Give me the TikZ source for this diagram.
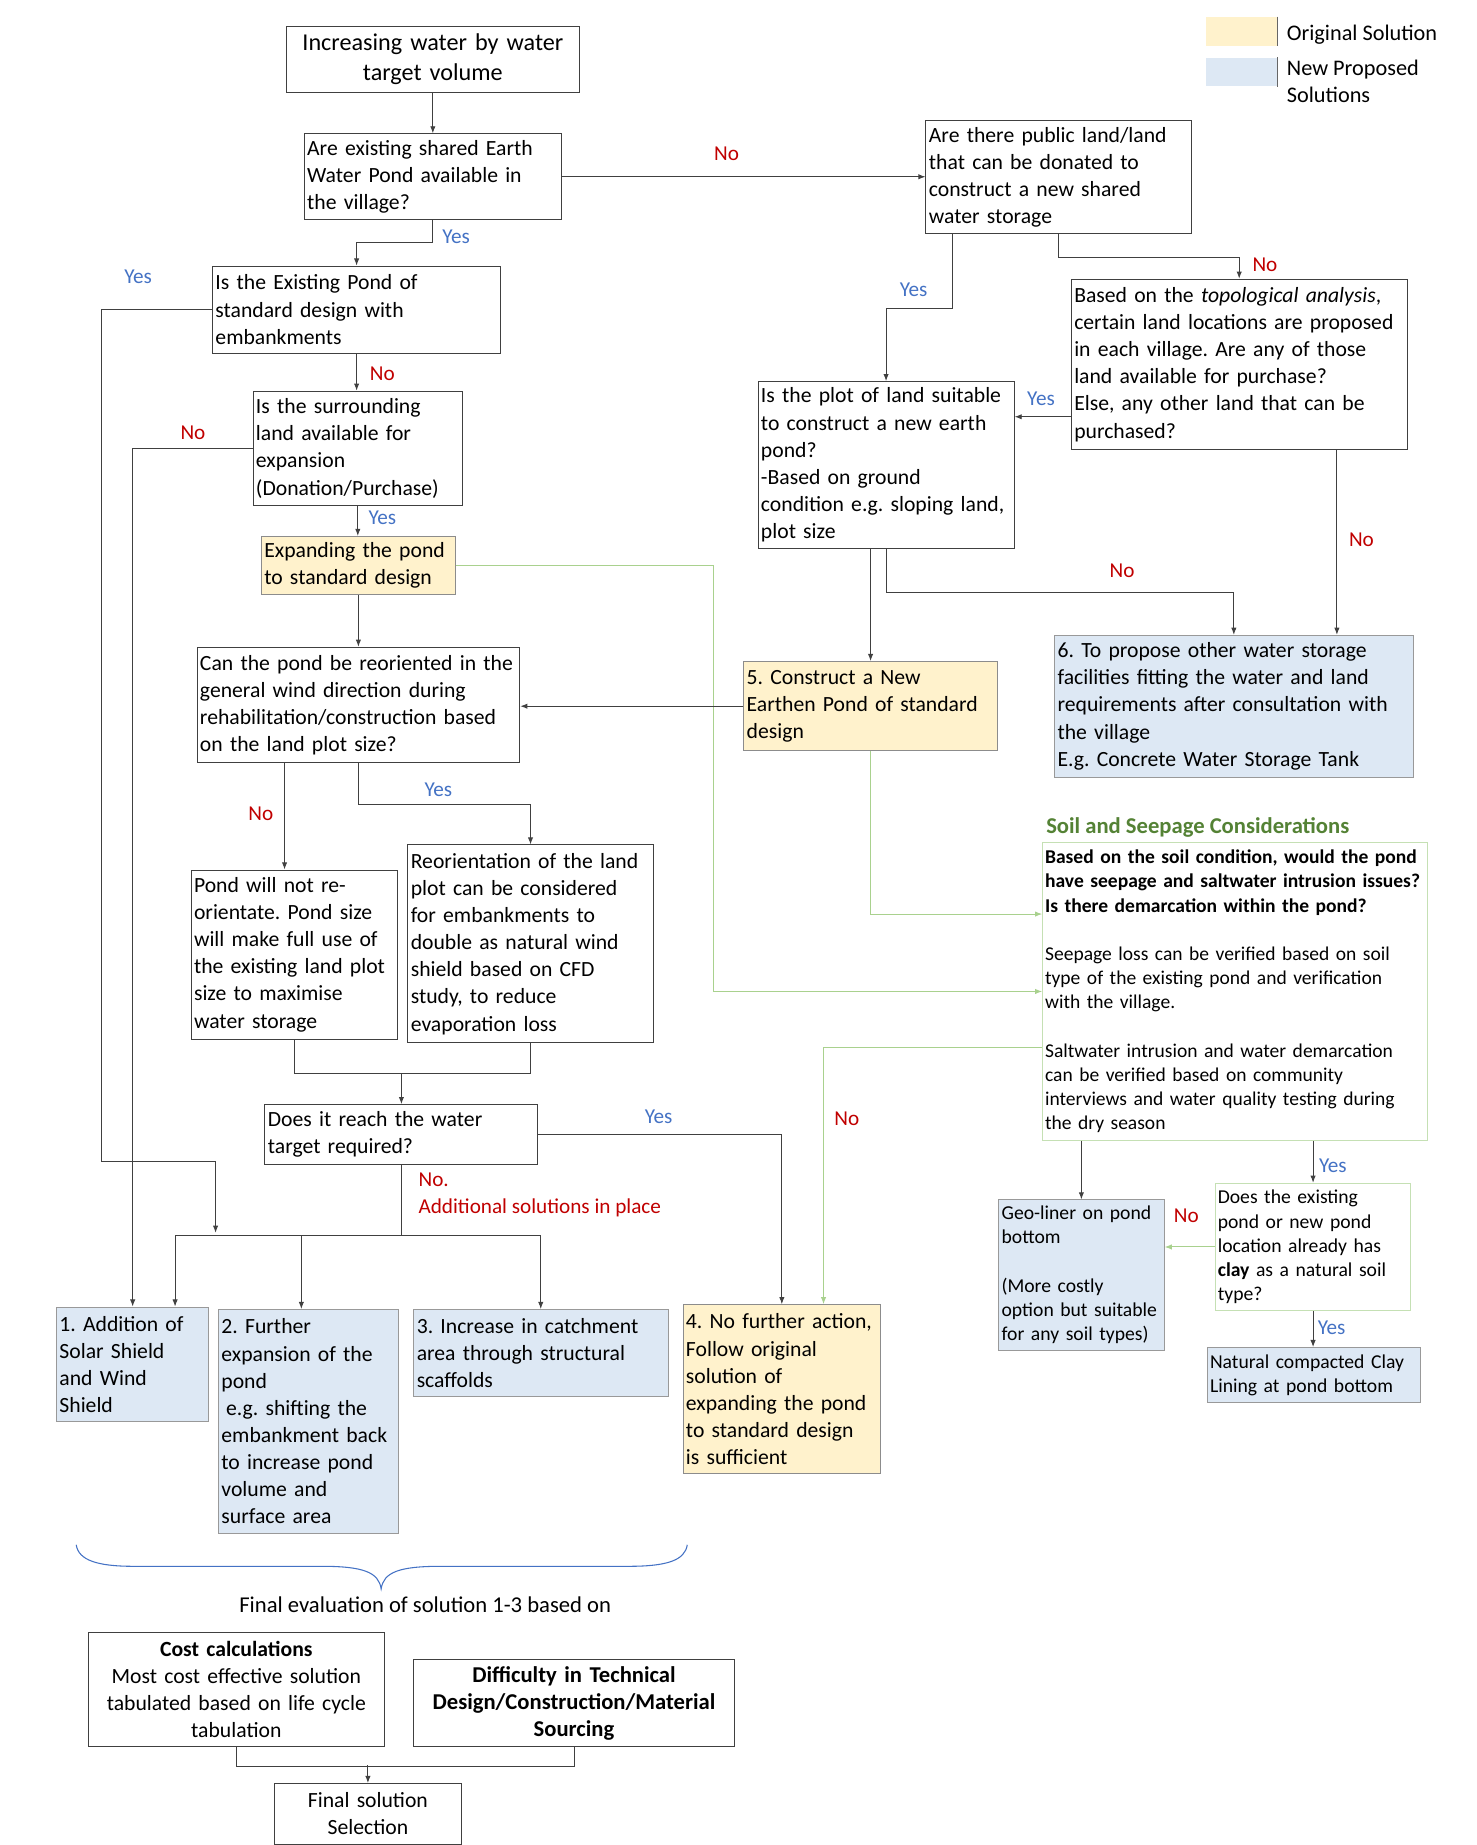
\documentclass[tikz,border=0pt]{standalone}
\usepackage{fontspec}
\setmainfont{Carlito}
\usetikzlibrary{arrows.meta}
\frenchspacing

\definecolor{origfill}{HTML}{FFF2CC}
\definecolor{newfill}{HTML}{DDE8F4}
\definecolor{linegray}{HTML}{404040}
\definecolor{greenline}{HTML}{A9D18E}
\definecolor{soilline}{HTML}{C5E0B4}
\definecolor{nored}{HTML}{C00000}
\definecolor{yesblue}{HTML}{4472C4}
\definecolor{titlegreen}{HTML}{548235}

\begin{document}
\hyphenpenalty=10000
\exhyphenpenalty=10000
\begin{tikzpicture}[x=1pt, y=-1pt, >={Latex[length=6pt,width=4.5pt]}, line width=0.8pt]

    \useasboundingbox (0,0) rectangle (1240,1549);

    % Styles
    \tikzstyle{box} = [rectangle, draw=linegray, anchor=north west, align=left, inner xsep=2.5pt, inner ysep=2pt, font=\fontsize{18.2}{22.8}\selectfont]
    \tikzstyle{original} = [box, fill=origfill, draw=black!45]
    \tikzstyle{proposed} = [box, fill=newfill, draw=black!40]
    \tikzstyle{soilbox} = [box, draw=soilline, inner xsep=2pt, font=\fontsize{16.4}{20.3}\selectfont]
    \tikzstyle{small} = [font=\fontsize{16.5}{20.3}\selectfont]
    \tikzstyle{swatch} = [rectangle, anchor=north west, inner sep=0pt, minimum width=60, minimum height=24]
    \tikzstyle{legendtext} = [align=left, inner sep=0pt, font=\fontsize{18.7}{23}\selectfont]
    \tikzstyle{heading} = [anchor=west, inner sep=0pt, text=titlegreen, font=\fontsize{19}{22}\selectfont\bfseries]
    \tikzstyle{yes} = [inner sep=0pt, text=yesblue, font=\fontsize{17.8}{22}\selectfont]
    \tikzstyle{no} = [inner sep=0pt, text=nored, font=\fontsize{17.8}{22}\selectfont]
    \tikzstyle{arrow} = [->, draw=linegray]
    \tikzstyle{link} = [draw=linegray]
    \tikzstyle{garrow} = [->, draw=greenline]

    % Legend
    \node[swatch, fill=origfill] (legOrig) at (1012,14) {};
    \draw[link, black!60] (legOrig.north east) -- (legOrig.south east);
    \node[legendtext, anchor=west] (legOrigText) at (1080,29) {Original Solution};
    \node[swatch, fill=newfill] (legNew) at (1012,48) {};
    \draw[link, black!60] (legNew.north east) -- (legNew.south east);
    \node[legendtext, anchor=north west] (legNewText) at (1080,50) {New Proposed\\Solutions};

    % Existing pond branch
    \node[box, align=center, text width=241, minimum height=55, font=\fontsize{20.3}{25}\selectfont] (target) at (240,22) {Increasing water by water\\target volume};
    \node[box, text width=211, minimum height=72] (existPond) at (255,112) {Are existing shared Earth\\Water Pond available in\\the village?};
    \node[box, text width=237, minimum height=73] (stdDesign) at (178,223) {Is the Existing Pond of\\standard design with\\embankments};
    \node[box, text width=171, minimum height=96] (surround) at (212,328) {Is the surrounding\\land available for\\expansion\\(Donation/Purchase)};
    \node[original, text width=158, minimum height=49] (expand) at (219,450) {Expanding the pond\\to standard design};
    \node[box, text width=266, minimum height=97] (reorient) at (165,543) {Can the pond be reoriented in the\\general wind direction during\\rehabilitation/construction based\\on the land plot size?};
    \node[box, text width=168, minimum height=142] (noReorient) at (160,730) {Pond will not re-\\orientate. Pond size\\will make full use of\\the existing land plot\\size to maximise\\water storage};
    \node[box, text width=201, minimum height=166] (reorientPlot) at (342,709) {Reorientation of the land\\plot can be considered\\for embankments to\\double as natural wind\\shield based on CFD\\study, to reduce\\evaporation loss};
    \node[box, text width=224, minimum height=50] (reachTarget) at (222,927) {Does it reach the water\\target required?};

    % New pond branch
    \node[box, text width=218, minimum height=95] (publicLand) at (777,101) {Are there public land/land\\that can be donated to\\construct a new shared\\water storage};
    \node[box, text width=210, minimum height=140] (plotSuitable) at (636,320) {Is the plot of land suitable\\to construct a new earth\\pond?\\-Based on ground\\condition e.g. sloping land,\\plot size};
    \node[box, text width=277, minimum height=143] (topoLand) at (899,234) {Based on the \textit{topological analysis},\\certain land locations are proposed\\in each village. Are any of those\\land available for purchase?\\Else, any other land that can be\\purchased?};
    \node[original, text width=208, minimum height=75] (newPond) at (624,555) {5. Construct a New\\Earthen Pond of standard\\design};
    \node[proposed, text width=296, minimum height=119] (otherStorage) at (885,533) {6. To propose other water storage\\facilities fitting the water and land\\requirements after consultation with\\the village\\E.g. Concrete Water Storage Tank};

    % Soil and seepage
    \node[heading] (soilTitle) at (878,695) {Soil and Seepage Considerations};
    \node[soilbox, text width=319, minimum height=250] (soilCheck) at (875,707) {\textbf{Based on the soil condition, would the pond}\\\textbf{have seepage and saltwater intrusion issues?}\\\textbf{Is there demarcation within the pond?}\\[20.3pt]Seepage loss can be verified based on soil\\type of the existing pond and verification\\with the village.\\[20.3pt]Saltwater intrusion and water demarcation\\can be verified based on community\\interviews and water quality testing during\\the dry season};
    \node[proposed, small, text width=134, minimum height=126] (geoLiner) at (838,1007) {Geo-liner on pond\\bottom\\[20.3pt](More costly\\option but suitable\\for any soil types)};
    \node[soilbox, small, text width=160, minimum height=107] (clayCheck) at (1020,993) {Does the existing\\pond or new pond\\location already has\\\textbf{clay} as a natural soil\\type?};
    \node[proposed, small, text width=174, minimum height=46] (clayLining) at (1013,1131) {Natural compacted Clay\\Lining at pond bottom};

    % Solutions
    \node[proposed, text width=123, minimum height=96] (sol1) at (47,1097) {1. Addition of\\Solar Shield\\and Wind\\Shield};
    \node[proposed, text width=146, minimum height=188] (sol2) at (183,1099) {2. Further\\expansion of the\\pond\\\hspace{4pt}e.g. shifting the\\embankment back\\to increase pond\\volume and\\surface area};
    \node[proposed, text width=209, minimum height=73] (sol3) at (347,1099) {3. Increase in catchment\\area through structural\\scaffolds};
    \node[original, text width=161, minimum height=142] (sol4) at (573,1095) {4. No further action,\\Follow original\\solution of\\expanding the pond\\to standard design\\is sufficient};

    % Evaluation
    \node[legendtext, font=\fontsize{19}{23}\selectfont] (evalText) at (357,1347) {Final evaluation of solution 1-3 based on};
    \node[box, align=center, text width=243, minimum height=96] (cost) at (74,1370) {\textbf{Cost calculations}\\Most cost effective solution\\tabulated based on life cycle\\tabulation};
    \node[box, align=center, text width=264, minimum height=73, font=\fontsize{19}{22.8}\selectfont] (difficulty) at (347,1393) {\textbf{Difficulty in Technical}\\\textbf{Design/Construction/Material}\\\textbf{Sourcing}};
    \node[box, align=center, text width=152, minimum height=51] (finalSel) at (230,1497) {Final solution\\Selection};

    % Joints
    \coordinate (yesJoin) at (181,1035);
    \coordinate (hiJoin) at (337,901);
    \coordinate (busL) at (147,1037);
    \coordinate (busMid) at (253,1037);
    \coordinate (busR) at (454,1037);
    \coordinate (noNorth) at ([xshift=-8pt]noReorient.north);
    \coordinate (topoYes) at ([yshift=-44pt]topoLand.west);
    \coordinate (topoNo) at ([xshift=82pt]topoLand.south);
    \coordinate (soilIn) at ([yshift=65pt]soilCheck.west);
    \coordinate (soilOut) at ([yshift=-47pt]soilCheck.west);
    \coordinate (sol4In) at ([xshift=35pt]sol4.north);

    % Arrows
    \draw[arrow] (target.south) -- (existPond.north);
    \draw[arrow] (existPond.east) -- (existPond.east -| publicLand.west);
    \draw[arrow] (existPond.south) -- ++(0,19) -| (stdDesign.north);
    \draw[arrow] (stdDesign.west) -| (85,975) -| (yesJoin);
    \draw[arrow] (stdDesign.south) -- (stdDesign.south |- surround.north);
    \draw[arrow] (surround.west) -| (sol1.north);
    \draw[arrow] (surround.south) -- (surround.south |- expand.north);
    \draw[arrow] (expand.south) -- (expand.south |- reorient.north);
    \draw[garrow] (expand.east) -- ++(216,0) |- (soilCheck.west);

    \draw[arrow] (noNorth |- reorient.south) -- (noNorth);
    \draw[arrow] (reorient.south) -- ++(0,35) -| (reorientPlot.north);
    \draw[link] (noReorient.south) |- (hiJoin);
    \draw[link] (reorientPlot.south) |- (hiJoin);
    \draw[arrow] (hiJoin) -- (hiJoin |- reachTarget.north);
    \draw[arrow] (reachTarget.east) -| (sol4.north);
    \draw[link] (reachTarget.south) -- (reachTarget.south |- busL);
    \draw[link] (busL) -- (busR);
    \draw[arrow] (busL) -- (busL |- sol1.north);
    \draw[arrow] (busMid) -- (busMid |- sol2.north);
    \draw[arrow] (busR) -- (busR |- sol3.north);

    \draw[arrow] ([xshift=23pt]publicLand.south west) -- ++(0,62) -| (plotSuitable.north);
    \draw[arrow] (publicLand.south) -- ++(0,19) -| (topoLand.north);
    \draw[arrow] (topoYes) -- (topoYes -| plotSuitable.east);
    \draw[arrow] (topoNo) -- (topoNo |- otherStorage.north);
    \draw[arrow] (plotSuitable.south) -- ++(0,37) -| (otherStorage.north);
    \draw[arrow] (newPond.north |- plotSuitable.south) -- (newPond.north);
    \draw[arrow] (newPond.west) -- (newPond.west -| reorient.east);
    \draw[garrow] (newPond.south) |- (soilIn);
    \draw[garrow] (soilOut) -| (sol4In);

    \draw[arrow] (geoLiner.north |- soilCheck.south) -- (geoLiner.north);
    \draw[arrow] (clayCheck.north |- soilCheck.south) -- (clayCheck.north);
    \draw[garrow] (clayCheck.west) -- (clayCheck.west -| geoLiner.east);
    \draw[arrow] (clayCheck.south) -- (clayCheck.south |- clayLining.north);

    \draw[yesblue, line width=0.9pt] (64,1297) .. controls (66,1310) and (82,1315) .. (112,1315) -- (270,1315) .. controls (305,1315) and (318,1320) .. (320,1334) .. controls (322,1320) and (335,1315) .. (370,1315) -- (528,1315) .. controls (560,1315) and (575,1310) .. (577,1297);
    \draw[link] (cost.south) -- ++(0,16) -| (difficulty.south);
    \draw[arrow] ([yshift=15pt]finalSel.north) -- (finalSel.north);

    % Labels
    \node[no] (noPublic) at (610,129) {No};
    \node[yes] (yesStd) at (383,199) {Yes};
    \node[yes] (yesExisting) at (116,232) {Yes};
    \node[no] (noSurround) at (321,314) {No};
    \node[no] (noExpand) at (162,363) {No};
    \node[yes] (yesExpand) at (321,435) {Yes};
    \node[no] (noReorientLab) at (219,683) {No};
    \node[yes] (yesReorientLab) at (368,663) {Yes};
    \node[yes] (yesTarget) at (553,938) {Yes};
    \node[no, anchor=north west, align=left, font=\fontsize{17.8}{23}\selectfont] (noTarget) at (351,984) {No.\\Additional solutions in place};
    \node[yes] (yesPublic) at (767,243) {Yes};
    \node[no] (noPublicK) at (1062,222) {No};
    \node[yes] (yesTopo) at (874,335) {Yes};
    \node[no] (noTopo) at (1143,453) {No};
    \node[no] (noPlot) at (942,479) {No};
    \node[no] (noSoil) at (711,939) {No};
    \node[yes] (yesSoil) at (1119,979) {Yes};
    \node[no] (noClay) at (996,1021) {No};
    \node[yes] (yesClay) at (1118,1115) {Yes};

\end{tikzpicture}
\end{document}
